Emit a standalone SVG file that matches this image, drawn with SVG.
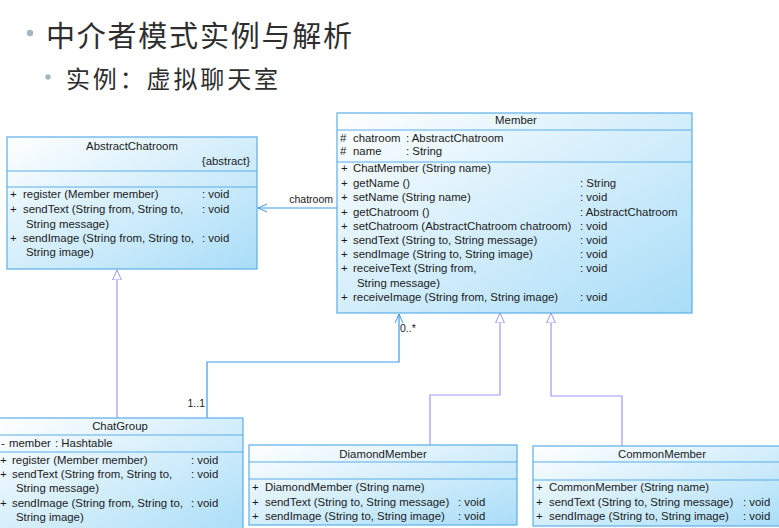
<svg xmlns="http://www.w3.org/2000/svg" width="779" height="528" viewBox="0 0 779 528">
<defs>
<linearGradient id="g" x1="0" y1="0" x2="1" y2="1">
<stop offset="0" stop-color="#ffffff"/>
<stop offset="1" stop-color="#a9ddf8"/>
</linearGradient>
<marker id="tri" markerWidth="12" markerHeight="12" refX="10" refY="5" orient="auto" markerUnits="userSpaceOnUse" viewBox="0 0 12 12">
<path d="M0,0.5 L10,5 L0,9.5 Z" fill="#fff" stroke="#9a9af5" stroke-width="1"/>
</marker>
<marker id="open" markerWidth="12" markerHeight="12" refX="10" refY="5" orient="auto" markerUnits="userSpaceOnUse" viewBox="0 0 12 12">
<path d="M1,1 L10,5 L1,9" fill="none" stroke="#3d9be8" stroke-width="1"/>
</marker>
</defs>
<style>
.box{fill:url(#g);stroke:#5aaee8;stroke-width:1.2}
.sep{stroke:#5aaee8;stroke-width:1.2}
text{font-family:"Liberation Sans",Arial,sans-serif;font-size:11.4px;fill:#1a1a1a}
.c{text-anchor:middle}
.r{text-anchor:end}
.t{font-family:"Noto Sans CJK SC","Noto Sans CJK TC",sans-serif;fill:#2e2e2e}
.t1{font-size:29px}
.t2{font-size:24px}
.gen{fill:none;stroke:#9a9af5;stroke-width:1.2}
.asc{fill:none;stroke:#3d9be8;stroke-width:1.2}
.lbl{font-size:10.5px}
</style>
<rect width="779" height="528" fill="#fff"/>
<g id="title">
<circle cx="30" cy="33" r="3.2" fill="#a3b5bf"/>
<text class="t t1" x="46" y="47" textLength="306" lengthAdjust="spacing">中介者模式实例与解析</text>
<circle cx="48" cy="77" r="2.7" fill="#a3b5bf"/>
<text class="t t2" x="66" y="88" textLength="212" lengthAdjust="spacing">实例：虚拟聊天室</text>
</g>
<g id="connectors">
<polyline class="asc" points="338,208 258,208" marker-end="url(#open)"/>
<text class="lbl r" x="333" y="203">chatroom</text>
<polyline class="asc" points="207,418 207,362 399,362 399,314" marker-end="url(#open)"/>
<text class="lbl" x="400" y="332">0..*</text>
<text class="lbl r" x="205" y="407">1..1</text>
<polyline class="gen" points="117,418 117,270" marker-end="url(#tri)"/>
<polyline class="gen" points="430,445 430,395 500,395 500,313" marker-end="url(#tri)"/>
<polyline class="gen" points="622,446 622,396 551,396 551,313" marker-end="url(#tri)"/>
</g>
<g id="AbstractChatroom">
<rect class="box" x="7" y="137" width="250" height="132"/>
<line class="sep" x1="7" y1="171" x2="257" y2="171"/>
<line class="sep" x1="7" y1="187" x2="257" y2="187"/>
<text class="c" x="132" y="150">AbstractChatroom</text>
<text class="r" x="250" y="165">{abstract}</text>
<text x="10" y="198">+</text><text x="23" y="198">register (Member member)</text><text x="202" y="198">: void</text>
<text x="10" y="213">+</text><text x="23" y="213">sendText (String from, String to,</text><text x="202" y="213">: void</text>
<text x="26" y="228">String message)</text>
<text x="10" y="242">+</text><text x="23" y="242">sendImage (String from, String to,</text><text x="202" y="242">: void</text>
<text x="26" y="256">String image)</text>
</g>
<g id="Member">
<rect class="box" x="337" y="113" width="355" height="200"/>
<line class="sep" x1="337" y1="130" x2="692" y2="130"/>
<line class="sep" x1="337" y1="162" x2="692" y2="162"/>
<text class="c" x="516" y="124">Member</text>
<text x="340" y="142">#</text><text x="353" y="142">chatroom</text><text x="406" y="142">: AbstractChatroom</text>
<text x="340" y="155">#</text><text x="353" y="155">name</text><text x="406" y="155">: String</text>
<text x="341" y="172">+</text><text x="353" y="172">ChatMember (String name)</text>
<text x="341" y="187">+</text><text x="353" y="187">getName ()</text><text x="580" y="187">: String</text>
<text x="341" y="201">+</text><text x="353" y="201">setName (String name)</text><text x="580" y="201">: void</text>
<text x="341" y="216">+</text><text x="353" y="216">getChatroom ()</text><text x="580" y="216">: AbstractChatroom</text>
<text x="341" y="230">+</text><text x="353" y="230">setChatroom (AbstractChatroom chatroom)</text><text x="580" y="230">: void</text>
<text x="341" y="244">+</text><text x="353" y="244">sendText (String to, String message)</text><text x="580" y="244">: void</text>
<text x="341" y="258">+</text><text x="353" y="258">sendImage (String to, String image)</text><text x="580" y="258">: void</text>
<text x="341" y="272">+</text><text x="353" y="272">receiveText (String from,</text><text x="580" y="272">: void</text>
<text x="357" y="287">String message)</text>
<text x="341" y="301">+</text><text x="353" y="301">receiveImage (String from, String image)</text><text x="580" y="301">: void</text>
</g>
<g id="ChatGroup">
<rect class="box" x="-1" y="418" width="244" height="120"/>
<line class="sep" x1="-1" y1="435" x2="243" y2="435"/>
<line class="sep" x1="-1" y1="452" x2="243" y2="452"/>
<text class="c" x="120" y="430">ChatGroup</text>
<text x="1" y="447">-</text><text x="9" y="447">member</text><text x="55" y="447">: Hashtable</text>
<text x="0" y="464">+</text><text x="12" y="464">register (Member member)</text><text x="191" y="464">: void</text>
<text x="0" y="478">+</text><text x="12" y="478">sendText (String from, String to,</text><text x="191" y="478">: void</text>
<text x="16" y="492">String message)</text>
<text x="0" y="507">+</text><text x="12" y="507">sendImage (String from, String to,</text><text x="191" y="507">: void</text>
<text x="16" y="521">String image)</text>
</g>
<g id="DiamondMember">
<rect class="box" x="249" y="445" width="268" height="80"/>
<line class="sep" x1="249" y1="462" x2="517" y2="462"/>
<line class="sep" x1="249" y1="479" x2="517" y2="479"/>
<text class="c" x="383" y="458">DiamondMember</text>
<text x="252" y="491">+</text><text x="265" y="491">DiamondMember (String name)</text>
<text x="252" y="506">+</text><text x="265" y="506">sendText (String to, String message)</text><text x="458" y="506">: void</text>
<text x="252" y="520">+</text><text x="265" y="520">sendImage (String to, String image)</text><text x="458" y="520">: void</text>
</g>
<g id="CommonMember">
<rect class="box" x="533" y="446" width="252" height="80"/>
<line class="sep" x1="533" y1="462" x2="785" y2="462"/>
<line class="sep" x1="533" y1="480" x2="785" y2="480"/>
<text class="c" x="662" y="458">CommonMember</text>
<text x="536" y="491">+</text><text x="549" y="491">CommonMember (String name)</text>
<text x="536" y="506">+</text><text x="549" y="506">sendText (String to, String message)</text><text x="743" y="506">: void</text>
<text x="536" y="520">+</text><text x="549" y="520">sendImage (String to, String image)</text><text x="743" y="520">: void</text>
</g>
</svg>
